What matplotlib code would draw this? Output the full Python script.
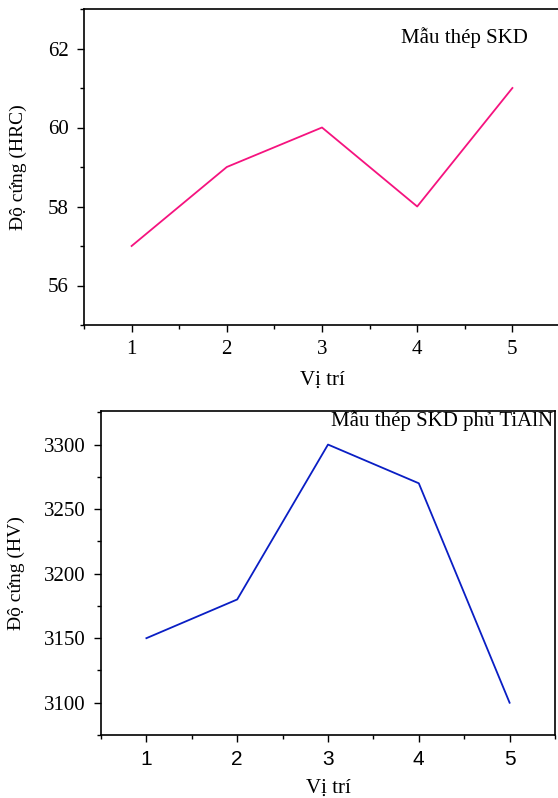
import numpy as np
import matplotlib
matplotlib.use("Agg")
import matplotlib.pyplot as plt
from matplotlib.ticker import MultipleLocator

# data
vi_tri = [1, 2, 3, 4, 5]
hrc = [57, 59, 60, 58, 61]
hv = [3150, 3180, 3300, 3270, 3100]

serif = "Liberation Serif"
sans = "Liberation Sans"

fig = plt.figure(figsize=(5.58, 7.98), dpi=100)
W, H = 558, 798

def place(l, t, r, b):
    return [l / W, 1 - b / H, (r - l) / W, (b - t) / H]

# top panel: HRC
ax1 = fig.add_axes(place(84, 9, 560, 325))
ax1.plot(vi_tri, hrc, color="#f5137f", lw=1.3)
ax1.set_xlim(0.5, 5.5)
ax1.set_ylim(55, 63)
ax1.xaxis.set_major_locator(MultipleLocator(1))
ax1.xaxis.set_minor_locator(MultipleLocator(0.5))
ax1.yaxis.set_major_locator(MultipleLocator(2))
ax1.yaxis.set_minor_locator(MultipleLocator(1))
ax1.tick_params(which="major", direction="out", length=5, width=1, labelsize=15, pad=6)
ax1.tick_params(which="minor", direction="out", length=3, width=1)
for lab in ax1.get_xticklabels() + ax1.get_yticklabels():
    lab.set_fontfamily(serif)
ax1.set_xlabel("Vị trí", family=serif, fontsize=15, labelpad=8)
ax1.set_ylabel("Độ cứng (HRC)", family=serif, fontsize=14, labelpad=15)
ax1.text(0.933, 0.911, "Mẫu thép SKD", transform=ax1.transAxes, family=serif,
         fontsize=15, ha="right", va="center")
for s in ax1.spines.values():
    s.set_linewidth(1.2)

# bottom panel: HV
ax2 = fig.add_axes(place(101, 411, 555, 735))
ax2.plot(vi_tri, hv, color="#0a1ec4", lw=1.3)
ax2.set_xlim(0.5, 5.5)
ax2.set_ylim(3075, 3326)
ax2.xaxis.set_major_locator(MultipleLocator(1))
ax2.xaxis.set_minor_locator(MultipleLocator(0.5))
ax2.yaxis.set_major_locator(MultipleLocator(50))
ax2.yaxis.set_minor_locator(MultipleLocator(25))
ax2.tick_params(which="major", direction="out", length=5, width=1, labelsize=15, pad=6)
ax2.tick_params(which="minor", direction="out", length=3, width=1)
for lab in ax2.get_xticklabels():
    lab.set_fontfamily(sans)
for lab in ax2.get_yticklabels():
    lab.set_fontfamily(serif)
ax2.set_xlabel("Vị trí", family=serif, fontsize=15, labelpad=7)
ax2.set_ylabel("Độ cứng (HV)", family=serif, fontsize=14, labelpad=14)
ax2.text(0.996, 0.969, "Mẫu thép SKD phủ TiAlN", transform=ax2.transAxes, family=serif,
         fontsize=15, ha="right", va="center")
for s in ax2.spines.values():
    s.set_linewidth(1.2)

fig.savefig("out.png", dpi=100)
